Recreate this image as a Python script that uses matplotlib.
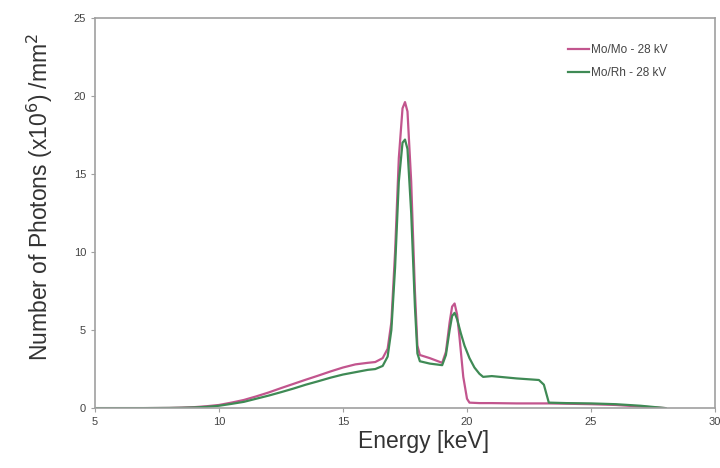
import matplotlib
matplotlib.use("Agg")
import matplotlib.pyplot as plt

# Mo/Mo - 28 kV spectrum
momo_e = [5, 6, 7, 8, 8.5, 9, 9.5, 10, 10.5, 11, 11.5, 12, 12.5, 13, 13.5, 14, 14.5,
          15, 15.5, 16, 16.3, 16.6, 16.8, 16.95, 17.1, 17.25, 17.4, 17.5, 17.6, 17.75,
          17.9, 18.0, 18.1, 18.5, 19.0, 19.15, 19.3, 19.4, 19.5, 19.6, 19.7, 19.85, 20.0,
          20.1, 20.5, 21, 22, 23, 23.3, 24, 25, 26, 27, 28]
momo_n = [0, 0, 0, 0.01, 0.03, 0.06, 0.12, 0.2, 0.35, 0.52, 0.75, 1.0, 1.28, 1.55, 1.82,
          2.08, 2.35, 2.6, 2.8, 2.9, 2.95, 3.2, 3.8, 5.5, 10.0, 16.0, 19.2, 19.6, 19.0, 14.5,
          7.5, 4.0, 3.4, 3.2, 2.9, 3.6, 5.5, 6.5, 6.7, 6.0, 4.5, 2.0, 0.6,
          0.35, 0.32, 0.32, 0.3, 0.3, 0.3, 0.28, 0.25, 0.2, 0.1, 0.0]

# Mo/Rh - 28 kV spectrum
morh_e = [5, 6, 7, 8, 8.5, 9, 9.5, 10, 10.5, 11, 11.5, 12, 12.5, 13, 13.5, 14, 14.5,
          15, 15.5, 16, 16.3, 16.6, 16.8, 16.95, 17.1, 17.25, 17.4, 17.5, 17.6, 17.75,
          17.9, 18.0, 18.1, 18.5, 19.0, 19.15, 19.3, 19.4, 19.5, 19.6, 19.75, 19.9, 20.1,
          20.3, 20.5, 20.65, 21, 22, 22.9, 23.1, 23.3, 24, 25, 26, 27, 28]
morh_n = [0, 0, 0, 0.01, 0.02, 0.04, 0.08, 0.15, 0.27, 0.4, 0.6, 0.8, 1.02, 1.25, 1.5,
          1.72, 1.95, 2.15, 2.3, 2.45, 2.5, 2.7, 3.3, 5.0, 9.0, 14.5, 17.0, 17.2, 16.6, 12.5,
          6.5, 3.5, 3.0, 2.85, 2.75, 3.4, 5.0, 5.9, 6.1, 5.7, 4.8, 4.0, 3.2,
          2.6, 2.2, 2.0, 2.05, 1.9, 1.8, 1.5, 0.35, 0.32, 0.3, 0.25, 0.15, 0.0]

plt.rcParams['font.family'] = ['Liberation Sans', 'DejaVu Sans']

fig = plt.figure(figsize=(7.2, 4.68), dpi=100)
ax = fig.add_axes([0.132, 0.128, 0.861, 0.834])

ax.plot(momo_e, momo_n, color='#c2558e', lw=1.6, label='Mo/Mo - 28 kV')
ax.plot(morh_e, morh_n, color='#3f8a55', lw=1.6, label='Mo/Rh - 28 kV')

ax.set_xlim(5, 30)
ax.set_ylim(0, 25)
ax.set_xticks([5, 10, 15, 20, 25, 30])
ax.set_yticks([0, 5, 10, 15, 20, 25])

for s in ax.spines.values():
    s.set_color('#a0a0a0')
    s.set_linewidth(1.2)
ax.tick_params(colors='#a0a0a0', labelcolor='#444444', labelsize=8, length=3)

ax.set_xlabel('Energy [keV]', fontsize=16.5, color='#333333')
ax.set_ylabel('Number of Photons (x10$^6$) /mm$^2$', fontsize=16.5, color='#333333')
ax.xaxis.set_label_coords(0.53, -0.055)
ax.yaxis.set_label_coords(-0.065, 0.54)

ax.legend(loc='upper right', bbox_to_anchor=(0.94, 0.96), frameon=False,
          fontsize=8.5, handlelength=1.8, handletextpad=0.1, labelspacing=0.9,
          labelcolor='#444444')

fig.savefig('out.png', dpi=100)
